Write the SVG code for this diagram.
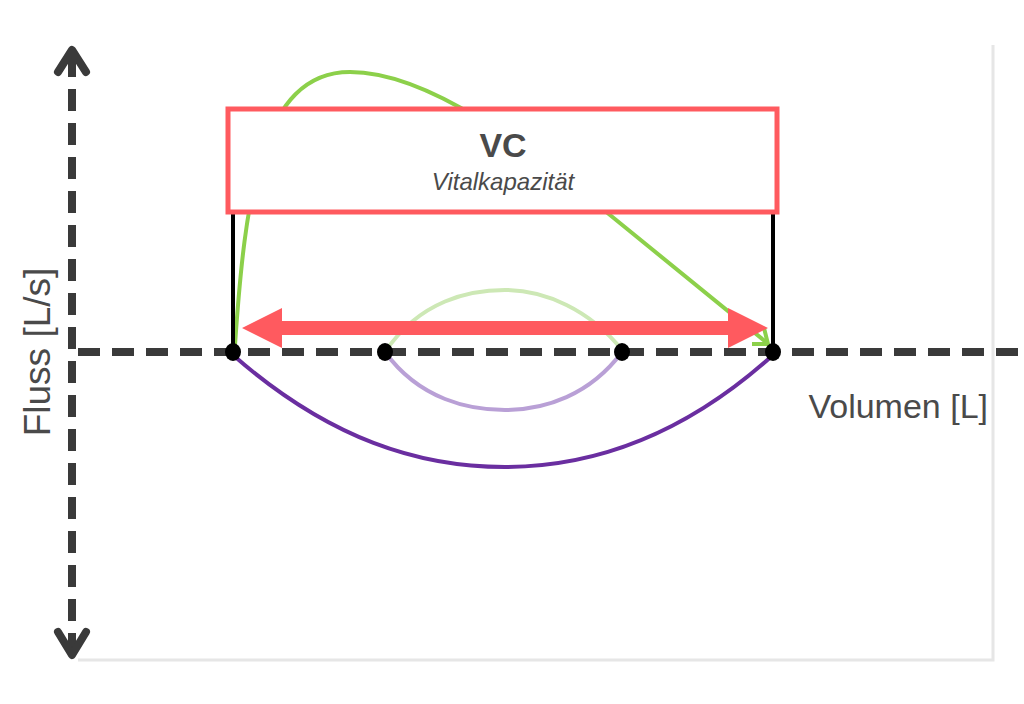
<svg xmlns="http://www.w3.org/2000/svg" width="1024" height="704" viewBox="0 0 1024 704">
<style>
.axis{stroke:#3a3a3a;stroke-width:8;stroke-dasharray:22 12;fill:none}
.lbl{font-family:"Liberation Sans",Arial,sans-serif;fill:#4a4a4a}
.dot{fill:#000}
</style>
<rect width="1024" height="704" fill="#fff"/>
<g id="frame"><polyline points="78,660 993,660 993,45" fill="none" stroke="#e6e6e6" stroke-width="3"/></g>
<g id="connectors">
<path d="M385,352 C420,300 470,290 505,290 C545,290 590,310 622,350" fill="none" stroke="#cde8b5" stroke-width="4"/>
<path d="M385,352 C420,400 470,410 505,410 C545,410 590,395 622,352" fill="none" stroke="#b9a0d6" stroke-width="4"/>
<path d="M233,355 C330,440 420,467 505,467 C600,467 690,430 773,355" fill="none" stroke="#6a2ea0" stroke-width="4"/>
<path d="M235,345 C245,200 260,72 350,72 C430,72 530,150 610,215 L766,342" fill="none" stroke="#8cd04a" stroke-width="4"/>
<path d="M752,344 L768,344 L764,328" fill="none" stroke="#8cd04a" stroke-width="4"/>
<line x1="233" y1="213" x2="233" y2="352" stroke="#000" stroke-width="4"/>
<line x1="773" y1="213" x2="773" y2="352" stroke="#000" stroke-width="4"/>
<line class="axis" x1="78" y1="352" x2="1020" y2="352"/>
<line class="axis" x1="72" y1="55" x2="72" y2="650"/>
<polyline points="58,72 72,50 86,72" fill="none" stroke="#3a3a3a" stroke-width="8" stroke-linejoin="round" stroke-linecap="round"/>
<polyline points="58,632 72,655 86,632" fill="none" stroke="#3a3a3a" stroke-width="8" stroke-linejoin="round" stroke-linecap="round"/>
<path d="M242,328 L282,308 L282,321 L728,321 L728,308 L768,328 L728,348 L728,335 L282,335 L282,348 Z" fill="#ff5a5f"/>
</g>
<g id="points">
<ellipse class="dot" cx="233" cy="352" rx="8" ry="9"/>
<ellipse class="dot" cx="385" cy="352" rx="8" ry="9"/>
<ellipse class="dot" cx="622" cy="352" rx="8" ry="9"/>
<ellipse class="dot" cx="773" cy="352" rx="8" ry="9"/>
</g>
<g id="vc">
<rect x="228" y="109" width="549" height="103" fill="#fff" stroke="#ff5a5f" stroke-width="5"/>
<text class="lbl" x="503" y="157" font-size="34" font-weight="bold" text-anchor="middle">VC</text>
<text class="lbl" x="503" y="190" font-size="24" font-style="italic" text-anchor="middle">Vitalkapazität</text>
</g>
<g id="labels">
<text class="lbl" x="988" y="418" font-size="34" text-anchor="end">Volumen [L]</text>
<text class="lbl" transform="translate(50,352) rotate(-90)" font-size="37" text-anchor="middle">Fluss [L/s]</text>
</g>
</svg>
